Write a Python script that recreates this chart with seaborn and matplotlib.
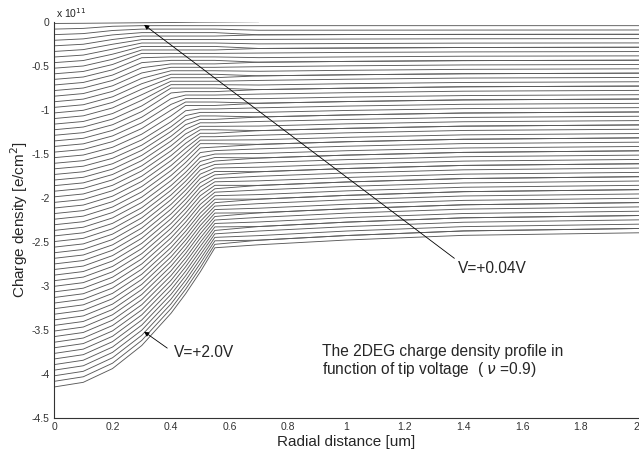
import numpy as np
import pandas as pd
import matplotlib
matplotlib.use("Agg")
import matplotlib.pyplot as plt
import seaborn as sns

nan = float("nan")

# Radial sampling positions [um]
radius_um = [0.0, 0.1, 0.2, 0.3, 0.4, 0.45, 0.5, 0.55, 0.7, 1.0, 1.4, 2.0]

# Tip voltages [V], one profile each
tip_voltage = [0.04, 0.07, 0.10, 0.13, 0.16, 0.19, 0.22, 0.25, 0.28, 0.31,
               0.34, 0.37, 0.40, 0.43, 0.46, 0.49, 0.52, 0.55, 0.58, 0.61,
               0.64, 0.67, 0.70, 0.73, 0.76, 0.79, 0.82, 0.85, 0.88, 0.91,
               0.94, 0.97, 1.00, 1.03, 1.06, 1.09, 1.12, 1.15, 1.18, 1.21,
               1.24, 1.27, 1.30, 1.33, 1.36, 1.39, 1.42, 1.45, 1.48, 1.51,
               1.54, 1.57, 1.60, 1.63, 1.66, 1.69, 1.72, 1.75, 1.78, 1.81,
               1.84, 1.87, 1.90, 1.93, 1.96, 2.00]

# Charge density [1e11 e/cm^2] at each radius, listed per tip voltage
dens_r000 = [-0.020, -0.084, -0.147, -0.211, -0.274, -0.338, -0.401, -0.465, -0.528, -0.592,
             -0.655, -0.719, -0.782, -0.846, -0.909, -0.973, -1.036, -1.100, -1.163, -1.227,
             -1.290, -1.354, -1.417, -1.481, -1.544, -1.608, -1.671, -1.735, -1.798, -1.862,
             -1.925, -1.989, -2.052, -2.116, -2.179, -2.243, -2.306, -2.370, -2.433, -2.497,
             -2.560, -2.624, -2.687, -2.751, -2.814, -2.878, -2.941, -3.005, -3.068, -3.132,
             -3.195, -3.259, -3.322, -3.386, -3.449, -3.513, -3.576, -3.640, -3.703, -3.767,
             -3.830, -3.894, -3.957, -4.021, -4.084, -4.148]
dens_r010 = [-0.018, -0.076, -0.135, -0.195, -0.256, -0.317, -0.379, -0.441, -0.503, -0.565,
             -0.628, -0.690, -0.753, -0.816, -0.879, -0.943, -1.006, -1.069, -1.133, -1.196,
             -1.260, -1.324, -1.387, -1.451, -1.514, -1.578, -1.641, -1.704, -1.767, -1.830,
             -1.893, -1.956, -2.019, -2.082, -2.145, -2.208, -2.271, -2.334, -2.397, -2.460,
             -2.523, -2.586, -2.649, -2.712, -2.775, -2.837, -2.900, -2.963, -3.026, -3.089,
             -3.152, -3.215, -3.278, -3.341, -3.404, -3.467, -3.529, -3.592, -3.655, -3.718,
             -3.781, -3.844, -3.907, -3.970, -4.032, -4.095]
dens_r020 = [-0.015, -0.052, -0.100, -0.150, -0.202, -0.256, -0.312, -0.369, -0.427, -0.486,
             -0.546, -0.606, -0.667, -0.728, -0.791, -0.853, -0.916, -0.979, -1.043, -1.106,
             -1.170, -1.234, -1.297, -1.361, -1.426, -1.490, -1.551, -1.613, -1.674, -1.735,
             -1.796, -1.858, -1.919, -1.981, -2.043, -2.104, -2.166, -2.228, -2.290, -2.351,
             -2.412, -2.473, -2.534, -2.595, -2.656, -2.717, -2.779, -2.840, -2.901, -2.963,
             -3.024, -3.085, -3.146, -3.207, -3.268, -3.328, -3.389, -3.450, -3.511, -3.572,
             -3.633, -3.694, -3.755, -3.816, -3.878, -3.939]
dens_r030 = [-0.012, -0.045, -0.084, -0.124, -0.163, -0.203, -0.242, -0.281, -0.321, -0.360,
             -0.409, -0.465, -0.523, -0.582, -0.643, -0.704, -0.766, -0.829, -0.892, -0.956,
             -1.020, -1.084, -1.148, -1.213, -1.277, -1.342, -1.402, -1.460, -1.518, -1.577,
             -1.636, -1.694, -1.754, -1.813, -1.872, -1.932, -1.992, -2.052, -2.112, -2.169,
             -2.227, -2.285, -2.343, -2.401, -2.459, -2.517, -2.576, -2.634, -2.693, -2.751,
             -2.810, -2.868, -2.926, -2.983, -3.041, -3.098, -3.156, -3.214, -3.272, -3.329,
             -3.387, -3.445, -3.503, -3.561, -3.619, -3.677]
dens_r040 = [-0.009, -0.045, -0.084, -0.124, -0.163, -0.203, -0.242, -0.281, -0.321, -0.360,
             -0.400, -0.439, -0.479, -0.518, -0.557, -0.597, -0.636, -0.676, -0.715, -0.754,
             -0.809, -0.874, -0.939, -1.004, -1.070, -1.136, -1.193, -1.246, -1.301, -1.355,
             -1.410, -1.466, -1.521, -1.577, -1.634, -1.690, -1.747, -1.804, -1.861, -1.914,
             -1.968, -2.021, -2.075, -2.129, -2.183, -2.237, -2.292, -2.346, -2.401, -2.455,
             -2.510, -2.565, -2.617, -2.670, -2.723, -2.776, -2.829, -2.883, -2.936, -2.989,
             -3.043, -3.096, -3.150, -3.204, -3.258, -3.311]
dens_r045 = [-0.007, -0.045, -0.084, -0.124, -0.163, -0.203, -0.242, -0.281, -0.321, -0.360,
             -0.400, -0.439, -0.479, -0.518, -0.557, -0.597, -0.636, -0.676, -0.715, -0.754,
             -0.794, -0.833, -0.873, -0.912, -0.951, -1.011, -1.066, -1.117, -1.169, -1.221,
             -1.274, -1.327, -1.381, -1.435, -1.489, -1.544, -1.599, -1.654, -1.710, -1.760,
             -1.811, -1.862, -1.912, -1.964, -2.015, -2.067, -2.119, -2.171, -2.224, -2.276,
             -2.329, -2.380, -2.430, -2.480, -2.530, -2.581, -2.631, -2.682, -2.732, -2.783,
             -2.834, -2.885, -2.936, -2.987, -3.038, -3.089]
dens_r050 = [-0.005, -0.045, -0.084, -0.124, -0.163, -0.203, -0.242, -0.281, -0.321, -0.360,
             -0.400, -0.439, -0.479, -0.518, -0.557, -0.597, -0.636, -0.676, -0.715, -0.754,
             -0.794, -0.833, -0.873, -0.912, -0.951, -0.991, -1.030, -1.070, -1.109, -1.148,
             -1.188, -1.227, -1.267, -1.306, -1.345, -1.385, -1.433, -1.486, -1.540, -1.587,
             -1.635, -1.683, -1.731, -1.779, -1.828, -1.877, -1.926, -1.976, -2.026, -2.075,
             -2.125, -2.174, -2.221, -2.268, -2.315, -2.362, -2.409, -2.457, -2.505, -2.552,
             -2.600, -2.648, -2.696, -2.744, -2.793, -2.841]
dens_r055 = [-0.004, -0.045, -0.084, -0.124, -0.163, -0.203, -0.242, -0.281, -0.321, -0.360,
             -0.400, -0.439, -0.479, -0.518, -0.557, -0.597, -0.636, -0.676, -0.715, -0.754,
             -0.794, -0.833, -0.873, -0.912, -0.951, -0.991, -1.030, -1.070, -1.109, -1.148,
             -1.188, -1.227, -1.267, -1.306, -1.345, -1.385, -1.424, -1.464, -1.503, -1.542,
             -1.582, -1.621, -1.661, -1.700, -1.739, -1.779, -1.818, -1.858, -1.897, -1.936,
             -1.976, -2.015, -2.055, -2.094, -2.133, -2.173, -2.212, -2.252, -2.291, -2.330,
             -2.370, -2.409, -2.449, -2.488, -2.528, -2.567]
dens_r070 = [0.000, -0.045, -0.097, -0.149, -0.149, -0.201, -0.252, -0.304, -0.304, -0.356,
             -0.408, -0.460, -0.460, -0.511, -0.563, -0.615, -0.615, -0.667, -0.719, -0.771,
             -0.771, -0.822, -0.874, -0.926, -0.926, -0.978, -1.030, -1.082, -1.082, -1.133,
             -1.185, -1.237, -1.237, -1.289, -1.341, -1.393, -1.393, -1.444, -1.496, -1.548,
             -1.548, -1.600, -1.652, -1.704, -1.704, -1.755, -1.807, -1.859, -1.859, -1.911,
             -1.963, -2.015, -2.015, -2.066, -2.118, -2.170, -2.170, -2.222, -2.274, -2.326,
             -2.326, -2.377, -2.429, -2.481, -2.481, -2.533]
dens_r100 = [nan, -0.045, -0.096, -0.146, -0.146, -0.197, -0.248, -0.299, -0.299, -0.349,
             -0.400, -0.451, -0.451, -0.501, -0.552, -0.603, -0.603, -0.653, -0.704, -0.755,
             -0.755, -0.806, -0.856, -0.907, -0.907, -0.958, -1.008, -1.059, -1.059, -1.110,
             -1.160, -1.211, -1.211, -1.262, -1.313, -1.363, -1.363, -1.414, -1.465, -1.515,
             -1.515, -1.566, -1.617, -1.667, -1.667, -1.718, -1.769, -1.820, -1.820, -1.870,
             -1.921, -1.972, -1.972, -2.022, -2.073, -2.124, -2.124, -2.174, -2.225, -2.276,
             -2.276, -2.327, -2.377, -2.428, -2.428, -2.479]
dens_r140 = [nan, -0.045, -0.095, -0.144, -0.144, -0.194, -0.243, -0.293, -0.293, -0.343,
             -0.392, -0.442, -0.442, -0.491, -0.541, -0.591, -0.591, -0.640, -0.690, -0.739,
             -0.739, -0.789, -0.839, -0.888, -0.888, -0.938, -0.987, -1.037, -1.037, -1.087,
             -1.136, -1.186, -1.186, -1.235, -1.285, -1.335, -1.335, -1.384, -1.434, -1.484,
             -1.484, -1.533, -1.583, -1.632, -1.632, -1.682, -1.731, -1.781, -1.781, -1.831,
             -1.880, -1.930, -1.930, -1.979, -2.029, -2.079, -2.079, -2.128, -2.178, -2.227,
             -2.227, -2.277, -2.327, -2.376, -2.376, -2.426]
dens_r200 = [nan, -0.045, -0.094, -0.143, -0.143, -0.192, -0.241, -0.290, -0.290, -0.339,
             -0.388, -0.437, -0.437, -0.486, -0.535, -0.584, -0.584, -0.633, -0.682, -0.731,
             -0.731, -0.780, -0.829, -0.878, -0.878, -0.927, -0.976, -1.025, -1.025, -1.074,
             -1.123, -1.172, -1.172, -1.221, -1.270, -1.319, -1.319, -1.368, -1.417, -1.466,
             -1.466, -1.515, -1.564, -1.613, -1.613, -1.662, -1.711, -1.760, -1.760, -1.809,
             -1.858, -1.907, -1.907, -1.956, -2.005, -2.054, -2.054, -2.103, -2.152, -2.201,
             -2.201, -2.250, -2.299, -2.348, -2.348, -2.397]

x_ticks = [0, 0.2, 0.4, 0.6, 0.8, 1.0, 1.2, 1.4, 1.6, 1.8, 2.0]
x_tick_labels = ["0", "0.2", "0.4", "0.6", "0.8", "1", "1.2", "1.4", "1.6", "1.8", "2"]
y_ticks = [0, -0.5, -1, -1.5, -2, -2.5, -3, -3.5, -4, -4.5]
y_tick_labels = ["0", "-0.5", "-1", "-1.5", "-2", "-2.5", "-3", "-3.5", "-4", "-4.5"]

columns = [dens_r000, dens_r010, dens_r020, dens_r030, dens_r040, dens_r045,
           dens_r050, dens_r055, dens_r070, dens_r100, dens_r140, dens_r200]

records = []
for i, v in enumerate(tip_voltage):
    for r, col in zip(radius_um, columns):
        if not np.isnan(col[i]):
            records.append((v, r, col[i]))
df = pd.DataFrame(records, columns=["V", "r", "n"])

sns.set_style("white")
plt.rcParams["font.family"] = ["Liberation Sans", "DejaVu Sans"]
plt.rcParams["mathtext.fontset"] = "dejavusans"

fig = plt.figure(figsize=(6.39, 4.53), dpi=100)
ax = fig.add_axes([54 / 639, 35 / 453, 585 / 639, 396.3 / 453])

sns.lineplot(data=df, x="r", y="n", units="V", estimator=None,
             color="#5a5a5a", linewidth=0.65, ax=ax, legend=False)

ax.set_xlim(0, 2)
ax.set_ylim(-4.5, 0)
ax.set_xticks(x_ticks)
ax.set_xticklabels(x_tick_labels)
ax.set_yticks(y_ticks)
ax.set_yticklabels(y_tick_labels)
ax.tick_params(direction="in", length=4, width=0.7, colors="#333333",
               labelsize=7.5, pad=3)
# keep the last x label inside the canvas
ax.get_xticklabels()[-1].set_horizontalalignment("right")
for side in ("top", "right"):
    ax.spines[side].set_visible(False)
for side in ("left", "bottom"):
    ax.spines[side].set_color("#333333")
    ax.spines[side].set_linewidth(0.8)

ax.set_xlabel("Radial distance [um]", fontsize=11, labelpad=2)
ax.set_ylabel("Charge density [e/cm$^2$]", fontsize=11, labelpad=1)

fig.text(56 / 639, 1 - 13 / 453, "x 10$^{11}$", fontsize=7.5, va="center",
         ha="left", color="#222222")

ax.annotate("V=+0.04V", xy=(0.308, -0.035), xytext=(1.38, -2.80),
            fontsize=11.2, ha="left", va="center",
            arrowprops=dict(relpos=(0, 1), shrinkA=0, shrinkB=0,
                            arrowstyle="-|>", lw=0.6, color="black",
                            mutation_scale=7))
ax.annotate("V=+2.0V", xy=(0.308, -3.52), xytext=(0.41, -3.76),
            fontsize=11.2, ha="left", va="center",
            arrowprops=dict(relpos=(0, 0.5), shrinkA=3, shrinkB=0,
                            arrowstyle="-|>", lw=0.6, color="black",
                            mutation_scale=7))

ax.text(0.916, -3.745, "The 2DEG charge density profile in", fontsize=11.2,
        ha="left", va="center")
ax.text(0.916, -3.95, r"function of tip voltage  ( $\nu$ =0.9)", fontsize=11.2,
        ha="left", va="center")

fig.savefig("out.png", dpi=100)
